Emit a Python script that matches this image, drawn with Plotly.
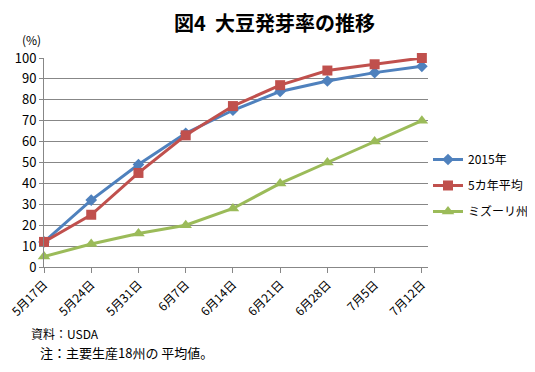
import plotly.graph_objects as go

categories = ["5月17日", "5月24日", "5月31日", "6月7日", "6月14日", "6月21日", "6月28日", "7月5日", "7月12日"]
series_2015 = [12, 32, 49, 64, 75, 84, 89, 93, 96]
series_5yr = [12, 25, 45, 63, 77, 87, 94, 97, 100]
series_missouri = [5, 11, 16, 20, 28, 40, 50, 60, 70]
y_ticks = [0, 10, 20, 30, 40, 50, 60, 70, 80, 90, 100]

FONT = "Noto Sans CJK JP"
BLUE = "#4F81BD"
RED = "#C0504D"
GREEN = "#9BBB59"
GRID = "#878787"

fig = go.Figure()
fig.add_trace(go.Scatter(x=categories, y=series_2015, name="2015年", mode="lines+markers",
                         line=dict(color=BLUE, width=3), marker=dict(symbol="diamond", size=9, color=BLUE),
                         legendgroup="a", cliponaxis=False))
fig.add_trace(go.Scatter(x=categories, y=series_5yr, name="5カ年平均", mode="lines+markers",
                         line=dict(color=RED, width=3), marker=dict(symbol="square", size=10, color=RED),
                         legendgroup="b", cliponaxis=False))
fig.add_trace(go.Scatter(x=categories, y=series_missouri, name="ミズーリ州", mode="lines+markers",
                         line=dict(color=GREEN, width=3), marker=dict(symbol="triangle-up", size=11, color=GREEN),
                         legendgroup="c", cliponaxis=False))

fig.update_layout(
    width=527, height=364,
    margin=dict(l=36, r=107, t=50, b=105, autoexpand=False),
    paper_bgcolor="white", plot_bgcolor="white",
    font=dict(family=FONT, size=12, color="black"),
    showlegend=True,
    legend=dict(x=1.0, y=0.39, xanchor="left", yanchor="middle",
                tracegroupgap=7, font=dict(size=12, family=FONT), bgcolor="rgba(0,0,0,0)", itemwidth=30),
    xaxis=dict(type="category", range=[0, 8.13], showgrid=False, showline=True, linecolor=GRID,
               linewidth=1, ticks="outside", ticklen=5, tickcolor=GRID, tickangle=-45,
               tickfont=dict(size=12, family=FONT), zeroline=False, automargin=False),
    yaxis=dict(range=[0, 100], tickvals=y_ticks, showgrid=True, gridcolor=GRID, gridwidth=1,
               showline=True, linecolor=GRID, linewidth=1, ticks="outside", ticklen=4, tickcolor=GRID,
               tickfont=dict(size=13, family=FONT), zeroline=False, automargin=False),
    annotations=[
        dict(text="<b>図4\u00a0\u00a0大豆発芽率の推移</b>", xref="paper", yref="paper", x=0.6, y=1.0,
             yshift=36, xanchor="center", yanchor="middle", showarrow=False,
             font=dict(size=20, family=FONT)),
        dict(text="(%)", xref="paper", yref="paper", x=0, y=1.0, xshift=-1, yshift=19,
             xanchor="right", yanchor="middle", showarrow=False, font=dict(size=12, family=FONT)),
        dict(text="資料：USDA", xref="paper", yref="paper", x=0, y=0, xshift=-15, yshift=-66,
             xanchor="left", yanchor="middle", showarrow=False, font=dict(size=12, family=FONT)),
        dict(text="注：主要生産18州の 平均値。", xref="paper", yref="paper", x=0, y=0, xshift=-6, yshift=-85,
             xanchor="left", yanchor="middle", showarrow=False, font=dict(size=13, family=FONT)),
    ],
)

fig.write_html("out.html")
